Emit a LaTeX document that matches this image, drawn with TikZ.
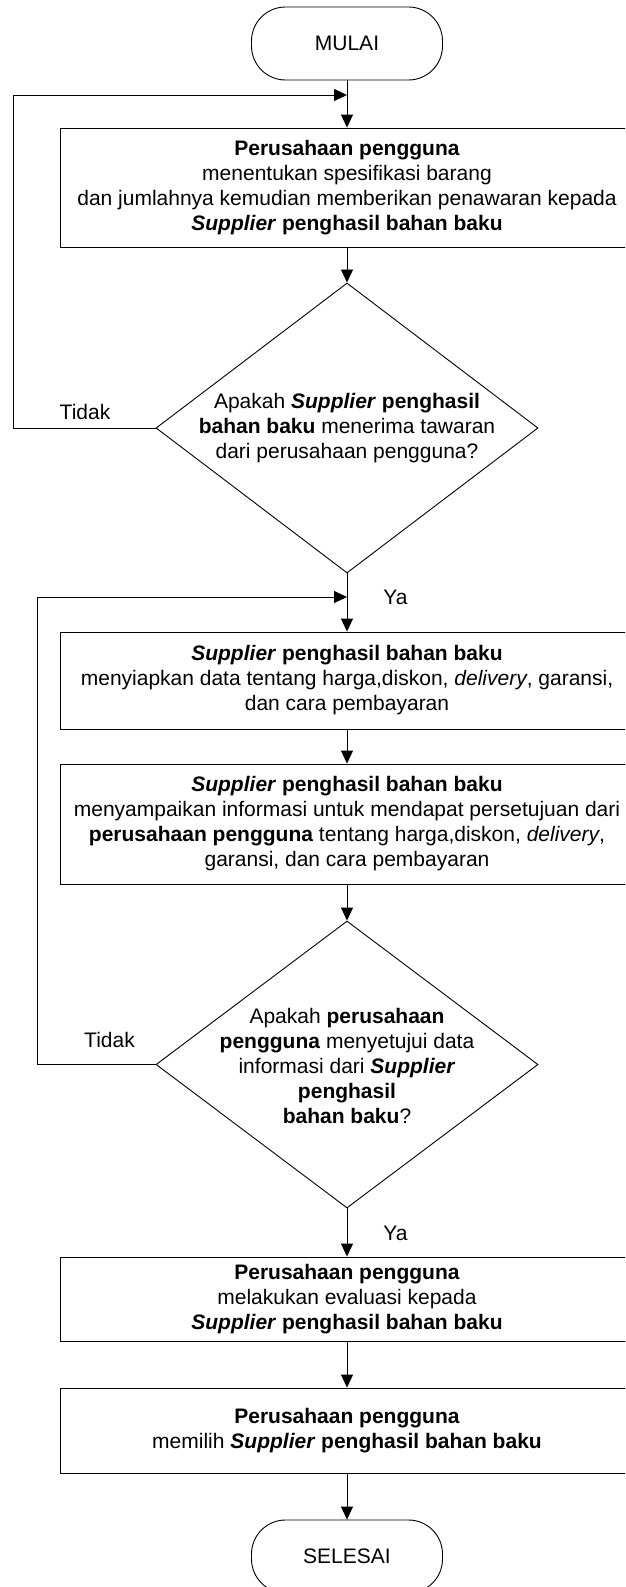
\documentclass[tikz,border=0pt]{standalone}
\usepackage{fontspec}
\setmainfont{Liberation Sans}
\usepackage{tikz}
\usetikzlibrary{arrows.meta}
\usetikzlibrary{shapes.geometric}

\tikzset{
  terminal/.style={draw, rounded corners=34pt, minimum width=191pt, minimum height=73pt, inner sep=0pt},
  process/.style={draw, minimum width=574pt, align=center, inner sep=0pt},
  decision/.style={draw, diamond, minimum width=382pt, minimum height=290pt, inner sep=0pt},
  question/.style={align=center, inner sep=0pt},
  flow/.style={-{Triangle[length=13pt,width=12pt]}},
}

\begin{document}
\begin{tikzpicture}[x=1pt, y=-1pt, line width=0.9pt, font=\fontsize{21pt}{25pt}\selectfont]
  \useasboundingbox (0,0) rectangle (625,1587);
  \clip (0,0) rectangle (625,1587);

  \node (mulai) [terminal] at (347,43.5) {MULAI};
  \node (b1) [process, minimum height=119pt] at (347,187.5)
    {\textbf{Perusahaan pengguna}\\
     menentukan spesifikasi barang\\
     dan jumlahnya kemudian memberikan penawaran kepada\\
     \textbf{\textit{Supplier} penghasil bahan baku}};
  \node (d1) [decision] at (347,428) {};
  \node (q1) [question] at (347,428)
    {Apakah \textbf{\textit{Supplier} penghasil}\\
     \textbf{bahan baku} menerima tawaran\\
     dari perusahaan pengguna?};
  \node (b2) [process, minimum height=97pt] at (347,680.5)
    {\textbf{\textit{Supplier} penghasil bahan baku}\\
     menyiapkan data tentang harga,diskon, \textit{delivery}, garansi,\\
     dan cara pembayaran};
  \node (b3) [process, minimum height=120pt] at (347,824)
    {\textbf{\textit{Supplier} penghasil bahan baku}\\
     menyampaikan informasi untuk mendapat persetujuan dari\\
     \textbf{perusahaan pengguna} tentang harga,diskon, \textit{delivery},\\
     garansi, dan cara pembayaran};
  \node (d2) [decision, minimum height=287pt] at (347,1064.5) {};
  \node (q2) [question] at (347,1066)
    {Apakah \textbf{perusahaan}\\
     \textbf{pengguna} menyetujui data\\
     informasi dari \textbf{\textit{Supplier}}\\
     \textbf{penghasil}\\
     \textbf{bahan baku}?};
  \node (b4) [process, minimum height=84pt] at (347,1299)
    {\textbf{Perusahaan pengguna}\\
     melakukan evaluasi kepada\\
     \textbf{\textit{Supplier} penghasil bahan baku}};
  \node (b5) [process, minimum height=85pt] at (347,1430.5)
    {\textbf{Perusahaan pengguna}\\
     memilih \textbf{\textit{Supplier} penghasil bahan baku}};
  \node (selesai) [terminal] at (347,1556.5) {SELESAI};

  \node (tidak1) at (85,412) {Tidak};
  \node (tidak2) at (109.5,1040) {Tidak};
  \node (ya1) at (395.5,597) {Ya};
  \node (ya2) at (395.5,1233) {Ya};

  \coordinate (in1) at (347,95);
  \coordinate (in2) at (347,597);
  \coordinate (lx1) at (13,0);
  \coordinate (lx2) at (37,0);

  \draw[flow] (mulai) -- (b1);
  \draw[flow] (b1) -- (d1);
  \draw[flow] (d1) -- (b2);
  \draw[flow] (b2) -- (b3);
  \draw[flow] (b3) -- (d2);
  \draw[flow] (d2) -- (b4);
  \draw[flow] (b4) -- (b5);
  \draw[flow] (b5) -- (selesai);
  \draw[flow] (d1.west) -- (d1.west -| lx1) |- (in1);
  \draw[flow] (d2.west) -- (d2.west -| lx2) |- (in2);
\end{tikzpicture}
\end{document}
